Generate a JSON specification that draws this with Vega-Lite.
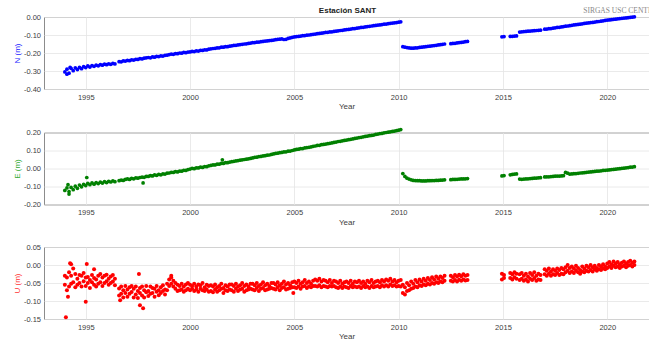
{
"$schema":"https://vega.github.io/schema/vega-lite/v6.json",
"padding":{"left":12,"top":6,"right":0,"bottom":0},
"spacing":15.5,
"data":{"values":[
{"t":1994.0,"N":-0.305,"E":-0.122,"U":-0.055,"V":-0.030},
{"t":1994.1,"N":-0.290,"E":-0.108,"U":-0.035,"V":-0.070},
{"t":1994.2,"N":-0.312,"E":-0.128,"U":-0.060,"V":-0.020},
{"t":1994.3,"N":-0.285,"E":-0.105,"U":-0.030,"V":-0.052},
{"t":1994.4,"N":-0.298,"E":-0.118,"U":-0.048,"V":-0.010},
{"t":1994.5,"N":-0.282,"E":-0.098,"U":-0.062,"V":-0.025},
{"t":1994.6,"N":-0.292,"E":-0.110,"U":-0.038,"V":-0.055},
{"t":1994.7,"N":-0.280,"E":-0.092,"U":-0.050,"V":-0.028},
{"t":1994.8,"N":-0.287,"E":-0.102,"U":-0.030,"V":-0.060},
{"t":1994.9,"N":-0.276,"E":-0.088,"U":-0.045,"V":-0.022},
{"t":1995.0,"N":-0.281,"E":-0.095,"U":-0.058,"V":-0.035},
{"t":1995.1,"N":-0.272,"E":-0.082,"U":-0.033,"V":-0.050},
{"t":1995.2,"N":-0.278,"E":-0.090,"U":-0.042,"V":-0.064},
{"t":1995.3,"N":-0.270,"E":-0.080,"U":-0.028,"V":-0.048},
{"t":1995.4,"N":-0.274,"E":-0.087,"U":-0.055,"V":-0.036},
{"t":1995.5,"N":-0.268,"E":-0.078,"U":-0.040,"V":-0.060},
{"t":1995.6,"N":-0.271,"E":-0.084,"U":-0.030,"V":-0.052},
{"t":1995.7,"N":-0.265,"E":-0.076,"U":-0.048,"V":-0.025},
{"t":1995.8,"N":-0.268,"E":-0.081,"U":-0.035,"V":-0.058},
{"t":1995.9,"N":-0.262,"E":-0.073,"U":-0.050,"V":-0.030},
{"t":1996.0,"N":-0.265,"E":-0.078,"U":-0.027,"V":-0.045},
{"t":1996.1,"N":-0.260,"E":-0.071,"U":-0.055,"V":-0.038},
{"t":1996.2,"N":-0.263,"E":-0.075,"U":-0.032,"V":-0.050},
{"t":1996.3,"N":-0.258,"E":-0.069,"U":-0.046,"V":-0.028},
{"t":1996.4,"N":-0.261,"E":-0.073,"U":-0.038,"V":-0.056},
{"t":1996.6,"N":-0.248,"E":-0.068,"U":-0.065,"V":-0.085},
{"t":1996.7,"N":-0.249,"E":-0.064,"U":-0.080,"V":-0.060},
{"t":1996.8,"N":-0.244,"E":-0.066,"U":-0.070,"V":-0.090},
{"t":1996.9,"N":-0.245,"E":-0.061,"U":-0.058,"V":-0.078},
{"t":1997.0,"N":-0.241,"E":-0.058,"U":-0.068,"V":-0.088},
{"t":1997.1,"N":-0.243,"E":-0.061,"U":-0.062,"V":-0.080},
{"t":1997.2,"N":-0.238,"E":-0.055,"U":-0.075,"V":-0.058},
{"t":1997.3,"N":-0.239,"E":-0.057,"U":-0.090,"V":-0.066},
{"t":1997.4,"N":-0.235,"E":-0.052,"U":-0.060,"V":-0.082},
{"t":1997.5,"N":-0.236,"E":-0.054,"U":-0.072,"V":-0.092},
{"t":1997.6,"N":-0.231,"E":-0.050,"U":-0.064,"V":-0.078},
{"t":1997.7,"N":-0.233,"E":-0.048,"U":-0.085,"V":-0.060},
{"t":1997.8,"N":-0.229,"E":-0.049,"U":-0.070,"V":-0.090},
{"t":1997.9,"N":-0.227,"E":-0.044,"U":-0.058,"V":-0.076},
{"t":1998.0,"N":-0.225,"E":-0.044,"U":-0.072,"V":-0.086},
{"t":1998.1,"N":-0.227,"E":-0.040,"U":-0.060,"V":-0.080},
{"t":1998.2,"N":-0.222,"E":-0.041,"U":-0.078,"V":-0.064},
{"t":1998.3,"N":-0.223,"E":-0.036,"U":-0.066,"V":-0.088},
{"t":1998.4,"N":-0.219,"E":-0.038,"U":-0.058,"V":-0.074},
{"t":1998.5,"N":-0.220,"E":-0.033,"U":-0.070,"V":-0.084},
{"t":1998.6,"N":-0.216,"E":-0.035,"U":-0.062,"V":-0.078},
{"t":1998.7,"N":-0.217,"E":-0.030,"U":-0.056,"V":-0.072},
{"t":1998.8,"N":-0.213,"E":-0.031,"U":-0.068,"V":-0.082},
{"t":1998.9,"N":-0.212,"E":-0.026,"U":-0.052,"V":-0.070},
{"t":1999.0,"N":-0.209,"E":-0.025,"U":-0.040,"V":-0.058},
{"t":1999.1,"N":-0.206,"E":-0.021,"U":-0.035,"V":-0.052},
{"t":1999.2,"N":-0.207,"E":-0.022,"U":-0.044,"V":-0.060},
{"t":1999.3,"N":-0.203,"E":-0.017,"U":-0.050,"V":-0.066},
{"t":1999.4,"N":-0.204,"E":-0.019,"U":-0.055,"V":-0.072},
{"t":1999.5,"N":-0.200,"E":-0.014,"U":-0.058,"V":-0.070},
{"t":1999.6,"N":-0.201,"E":-0.015,"U":-0.052,"V":-0.068},
{"t":1999.7,"N":-0.197,"E":-0.010,"U":-0.060,"V":-0.074},
{"t":1999.8,"N":-0.198,"E":-0.011,"U":-0.054,"V":-0.070},
{"t":1999.9,"N":-0.195,"E":-0.006,"U":-0.050,"V":-0.066},
{"t":2000.0,"N":-0.194,"E":-0.003,"U":-0.055,"V":-0.070},
{"t":2000.1,"N":-0.191,"E":0.001,"U":-0.058,"V":-0.066},
{"t":2000.2,"N":-0.192,"E":-0.001,"U":-0.052,"V":-0.072},
{"t":2000.3,"N":-0.188,"E":0.004,"U":-0.060,"V":-0.068},
{"t":2000.4,"N":-0.189,"E":0.003,"U":-0.054,"V":-0.074},
{"t":2000.5,"N":-0.185,"E":0.008,"U":-0.056,"V":-0.066},
{"t":2000.6,"N":-0.186,"E":0.006,"U":-0.050,"V":-0.070},
{"t":2000.7,"N":-0.182,"E":0.011,"U":-0.062,"V":-0.072},
{"t":2000.8,"N":-0.183,"E":0.010,"U":-0.055,"V":-0.068},
{"t":2000.9,"N":-0.179,"E":0.015,"U":-0.058,"V":-0.074},
{"t":2001.0,"N":-0.177,"E":0.017,"U":-0.056,"V":-0.072},
{"t":2001.1,"N":-0.175,"E":0.020,"U":-0.060,"V":-0.076},
{"t":2001.2,"N":-0.174,"E":0.020,"U":-0.054,"V":-0.068},
{"t":2001.3,"N":-0.172,"E":0.024,"U":-0.062,"V":-0.074},
{"t":2001.4,"N":-0.171,"E":0.024,"U":-0.058,"V":-0.070},
{"t":2001.5,"N":-0.168,"E":0.028,"U":-0.052,"V":-0.066},
{"t":2001.6,"N":-0.168,"E":0.028,"U":-0.064,"V":-0.078},
{"t":2001.7,"N":-0.165,"E":0.032,"U":-0.056,"V":-0.070},
{"t":2001.8,"N":-0.165,"E":0.032,"U":-0.060,"V":-0.072},
{"t":2001.9,"N":-0.162,"E":0.036,"U":-0.054,"V":-0.068},
{"t":2002.0,"N":-0.160,"E":0.038,"U":-0.054,"V":-0.070},
{"t":2002.1,"N":-0.158,"E":0.040,"U":-0.058,"V":-0.074},
{"t":2002.2,"N":-0.157,"E":0.042,"U":-0.052,"V":-0.066},
{"t":2002.3,"N":-0.155,"E":0.044,"U":-0.060,"V":-0.072},
{"t":2002.4,"N":-0.153,"E":0.046,"U":-0.056,"V":-0.068},
{"t":2002.5,"N":-0.152,"E":0.048,"U":-0.050,"V":-0.066},
{"t":2002.6,"N":-0.150,"E":0.050,"U":-0.058,"V":-0.074},
{"t":2002.7,"N":-0.149,"E":0.052,"U":-0.054,"V":-0.070},
{"t":2002.8,"N":-0.147,"E":0.054,"U":-0.060,"V":-0.068},
{"t":2002.9,"N":-0.145,"E":0.056,"U":-0.052,"V":-0.066},
{"t":2003.0,"N":-0.143,"E":0.059,"U":-0.052,"V":-0.068},
{"t":2003.1,"N":-0.142,"E":0.062,"U":-0.056,"V":-0.070},
{"t":2003.2,"N":-0.140,"E":0.063,"U":-0.050,"V":-0.064},
{"t":2003.3,"N":-0.139,"E":0.066,"U":-0.058,"V":-0.072},
{"t":2003.4,"N":-0.137,"E":0.067,"U":-0.054,"V":-0.066},
{"t":2003.5,"N":-0.136,"E":0.070,"U":-0.048,"V":-0.064},
{"t":2003.6,"N":-0.134,"E":0.071,"U":-0.056,"V":-0.070},
{"t":2003.7,"N":-0.133,"E":0.074,"U":-0.052,"V":-0.068},
{"t":2003.8,"N":-0.131,"E":0.075,"U":-0.058,"V":-0.066},
{"t":2003.9,"N":-0.130,"E":0.078,"U":-0.050,"V":-0.064},
{"t":2004.0,"N":-0.128,"E":0.081,"U":-0.050,"V":-0.066},
{"t":2004.1,"N":-0.126,"E":0.084,"U":-0.054,"V":-0.068},
{"t":2004.2,"N":-0.124,"E":0.085,"U":-0.048,"V":-0.062},
{"t":2004.3,"N":-0.123,"E":0.088,"U":-0.056,"V":-0.070},
{"t":2004.4,"N":-0.122,"E":0.089,"U":-0.052,"V":-0.064},
{"t":2004.5,"N":-0.125,"E":0.092,"U":-0.046,"V":-0.062},
{"t":2004.6,"N":-0.124,"E":0.093,"U":-0.054,"V":-0.068},
{"t":2004.7,"N":-0.119,"E":0.096,"U":-0.050,"V":-0.066},
{"t":2004.8,"N":-0.116,"E":0.097,"U":-0.056,"V":-0.064},
{"t":2004.9,"N":-0.113,"E":0.100,"U":-0.048,"V":-0.062},
{"t":2005.0,"N":-0.111,"E":0.103,"U":-0.046,"V":-0.062},
{"t":2005.1,"N":-0.109,"E":0.106,"U":-0.050,"V":-0.064},
{"t":2005.2,"N":-0.108,"E":0.107,"U":-0.044,"V":-0.060},
{"t":2005.3,"N":-0.106,"E":0.110,"U":-0.052,"V":-0.066},
{"t":2005.4,"N":-0.104,"E":0.111,"U":-0.048,"V":-0.060},
{"t":2005.5,"N":-0.103,"E":0.114,"U":-0.042,"V":-0.058},
{"t":2005.6,"N":-0.101,"E":0.116,"U":-0.050,"V":-0.064},
{"t":2005.7,"N":-0.100,"E":0.118,"U":-0.046,"V":-0.060},
{"t":2005.8,"N":-0.098,"E":0.120,"U":-0.052,"V":-0.062},
{"t":2005.9,"N":-0.096,"E":0.123,"U":-0.044,"V":-0.058},
{"t":2006.0,"N":-0.095,"E":0.125,"U":-0.040,"V":-0.058},
{"t":2006.1,"N":-0.093,"E":0.128,"U":-0.044,"V":-0.060},
{"t":2006.2,"N":-0.091,"E":0.129,"U":-0.038,"V":-0.056},
{"t":2006.3,"N":-0.090,"E":0.132,"U":-0.046,"V":-0.062},
{"t":2006.4,"N":-0.088,"E":0.134,"U":-0.042,"V":-0.058},
{"t":2006.5,"N":-0.086,"E":0.136,"U":-0.044,"V":-0.060},
{"t":2006.6,"N":-0.085,"E":0.138,"U":-0.048,"V":-0.062},
{"t":2006.7,"N":-0.083,"E":0.140,"U":-0.042,"V":-0.058},
{"t":2006.8,"N":-0.082,"E":0.142,"U":-0.050,"V":-0.060},
{"t":2006.9,"N":-0.080,"E":0.145,"U":-0.044,"V":-0.058},
{"t":2007.0,"N":-0.079,"E":0.147,"U":-0.046,"V":-0.062},
{"t":2007.1,"N":-0.077,"E":0.150,"U":-0.050,"V":-0.064},
{"t":2007.2,"N":-0.075,"E":0.151,"U":-0.044,"V":-0.060},
{"t":2007.3,"N":-0.074,"E":0.154,"U":-0.052,"V":-0.064},
{"t":2007.4,"N":-0.072,"E":0.156,"U":-0.048,"V":-0.060},
{"t":2007.5,"N":-0.070,"E":0.158,"U":-0.046,"V":-0.062},
{"t":2007.6,"N":-0.069,"E":0.160,"U":-0.050,"V":-0.064},
{"t":2007.7,"N":-0.067,"E":0.162,"U":-0.044,"V":-0.058},
{"t":2007.8,"N":-0.065,"E":0.164,"U":-0.052,"V":-0.062},
{"t":2007.9,"N":-0.064,"E":0.167,"U":-0.046,"V":-0.060},
{"t":2008.0,"N":-0.062,"E":0.169,"U":-0.048,"V":-0.062},
{"t":2008.1,"N":-0.060,"E":0.172,"U":-0.044,"V":-0.060},
{"t":2008.2,"N":-0.058,"E":0.173,"U":-0.050,"V":-0.064},
{"t":2008.3,"N":-0.057,"E":0.176,"U":-0.046,"V":-0.058},
{"t":2008.4,"N":-0.055,"E":0.178,"U":-0.052,"V":-0.062},
{"t":2008.5,"N":-0.053,"E":0.180,"U":-0.044,"V":-0.060},
{"t":2008.6,"N":-0.052,"E":0.182,"U":-0.048,"V":-0.064},
{"t":2008.7,"N":-0.050,"E":0.184,"U":-0.042,"V":-0.058},
{"t":2008.8,"N":-0.048,"E":0.186,"U":-0.050,"V":-0.062},
{"t":2008.9,"N":-0.047,"E":0.189,"U":-0.046,"V":-0.060},
{"t":2009.0,"N":-0.045,"E":0.191,"U":-0.044,"V":-0.058},
{"t":2009.1,"N":-0.044,"E":0.194,"U":-0.048,"V":-0.062},
{"t":2009.2,"N":-0.042,"E":0.195,"U":-0.042,"V":-0.056},
{"t":2009.3,"N":-0.040,"E":0.198,"U":-0.046,"V":-0.060},
{"t":2009.4,"N":-0.039,"E":0.200,"U":-0.040,"V":-0.056},
{"t":2009.5,"N":-0.037,"E":0.202,"U":-0.044,"V":-0.060},
{"t":2009.6,"N":-0.035,"E":0.204,"U":-0.038,"V":-0.054},
{"t":2009.7,"N":-0.034,"E":0.206,"U":-0.046,"V":-0.058},
{"t":2009.8,"N":-0.032,"E":0.208,"U":-0.042,"V":-0.056},
{"t":2009.9,"N":-0.031,"E":0.211,"U":-0.048,"V":-0.060},
{"t":2010.0,"N":-0.029,"E":0.213,"U":-0.044,"V":-0.058},
{"t":2010.1,"N":-0.027,"E":0.216,"U":-0.042,"V":-0.060},
{"t":2010.2,"N":-0.165,"E":-0.028,"U":-0.055,"V":-0.078},
{"t":2010.3,"N":-0.168,"E":-0.044,"U":-0.062,"V":-0.082},
{"t":2010.4,"N":-0.170,"E":-0.054,"U":-0.050,"V":-0.072},
{"t":2010.5,"N":-0.172,"E":-0.059,"U":-0.056,"V":-0.070},
{"t":2010.6,"N":-0.173,"E":-0.063,"U":-0.046,"V":-0.066},
{"t":2010.7,"N":-0.173,"E":-0.066,"U":-0.052,"V":-0.064},
{"t":2010.8,"N":-0.172,"E":-0.067,"U":-0.042,"V":-0.060},
{"t":2010.9,"N":-0.171,"E":-0.068,"U":-0.048,"V":-0.062},
{"t":2011.0,"N":-0.169,"E":-0.068,"U":-0.040,"V":-0.056},
{"t":2011.1,"N":-0.168,"E":-0.069,"U":-0.046,"V":-0.058},
{"t":2011.2,"N":-0.166,"E":-0.069,"U":-0.038,"V":-0.054},
{"t":2011.3,"N":-0.165,"E":-0.069,"U":-0.044,"V":-0.056},
{"t":2011.4,"N":-0.163,"E":-0.068,"U":-0.036,"V":-0.052},
{"t":2011.5,"N":-0.162,"E":-0.068,"U":-0.042,"V":-0.054},
{"t":2011.6,"N":-0.160,"E":-0.067,"U":-0.034,"V":-0.050},
{"t":2011.7,"N":-0.159,"E":-0.067,"U":-0.040,"V":-0.052},
{"t":2011.8,"N":-0.157,"E":-0.066,"U":-0.032,"V":-0.048},
{"t":2011.9,"N":-0.155,"E":-0.066,"U":-0.038,"V":-0.050},
{"t":2012.0,"N":-0.154,"E":-0.065,"U":-0.032,"V":-0.046},
{"t":2012.1,"N":-0.152,"E":-0.064,"U":-0.036,"V":-0.048},
{"t":2012.2,"N":-0.150,"E":-0.063,"U":-0.030,"V":-0.044},
{"t":2012.5,"N":-0.148,"E":-0.062,"U":-0.030,"V":-0.044},
{"t":2012.6,"N":-0.147,"E":-0.061,"U":-0.034,"V":-0.046},
{"t":2012.7,"N":-0.146,"E":-0.061,"U":-0.028,"V":-0.042},
{"t":2012.8,"N":-0.144,"E":-0.060,"U":-0.032,"V":-0.046},
{"t":2012.9,"N":-0.142,"E":-0.059,"U":-0.027,"V":-0.041},
{"t":2013.0,"N":-0.141,"E":-0.058,"U":-0.031,"V":-0.044},
{"t":2013.1,"N":-0.139,"E":-0.058,"U":-0.026,"V":-0.040},
{"t":2013.2,"N":-0.137,"E":-0.057,"U":-0.030,"V":-0.043},
{"t":2013.3,"N":-0.136,"E":-0.056,"U":-0.028,"V":-0.042},
{"t":2014.95,"N":-0.110,"E":-0.041,"U":-0.024,"V":-0.040},
{"t":2015.05,"N":-0.109,"E":-0.039,"U":-0.028,"V":-0.036},
{"t":2015.35,"N":-0.108,"E":-0.035,"U":-0.022,"V":-0.036},
{"t":2015.45,"N":-0.107,"E":-0.033,"U":-0.026,"V":-0.040},
{"t":2015.55,"N":-0.106,"E":-0.031,"U":-0.020,"V":-0.034},
{"t":2015.65,"N":-0.105,"E":-0.030,"U":-0.024,"V":-0.038},
{"t":2015.8,"N":-0.084,"E":-0.059,"U":-0.026,"V":-0.042},
{"t":2015.9,"N":-0.082,"E":-0.060,"U":-0.022,"V":-0.038},
{"t":2016.0,"N":-0.081,"E":-0.059,"U":-0.030,"V":-0.044},
{"t":2016.1,"N":-0.080,"E":-0.058,"U":-0.024,"V":-0.040},
{"t":2016.2,"N":-0.079,"E":-0.057,"U":-0.032,"V":-0.046},
{"t":2016.3,"N":-0.078,"E":-0.056,"U":-0.022,"V":-0.038},
{"t":2016.4,"N":-0.077,"E":-0.055,"U":-0.028,"V":-0.042},
{"t":2016.5,"N":-0.076,"E":-0.054,"U":-0.020,"V":-0.036},
{"t":2016.6,"N":-0.075,"E":-0.053,"U":-0.030,"V":-0.044},
{"t":2016.7,"N":-0.074,"E":-0.052,"U":-0.024,"V":-0.040},
{"t":2016.8,"N":-0.073,"E":-0.051,"U":-0.028,"V":-0.042},
{"t":2017.0,"N":-0.068,"E":-0.047,"U":-0.012,"V":-0.026},
{"t":2017.1,"N":-0.067,"E":-0.046,"U":-0.016,"V":-0.030},
{"t":2017.2,"N":-0.065,"E":-0.046,"U":-0.010,"V":-0.024},
{"t":2017.3,"N":-0.064,"E":-0.045,"U":-0.018,"V":-0.030},
{"t":2017.4,"N":-0.062,"E":-0.044,"U":-0.012,"V":-0.026},
{"t":2017.5,"N":-0.060,"E":-0.043,"U":-0.016,"V":-0.028},
{"t":2017.6,"N":-0.058,"E":-0.042,"U":-0.010,"V":-0.022},
{"t":2017.7,"N":-0.057,"E":-0.042,"U":-0.014,"V":-0.028},
{"t":2017.8,"N":-0.055,"E":-0.041,"U":-0.008,"V":-0.024},
{"t":2017.9,"N":-0.053,"E":-0.040,"U":-0.012,"V":-0.026},
{"t":2018.0,"N":-0.051,"E":-0.022,"U":-0.006,"V":-0.020},
{"t":2018.1,"N":-0.050,"E":-0.026,"U":0.000,"V":-0.016},
{"t":2018.2,"N":-0.048,"E":-0.031,"U":-0.008,"V":-0.022},
{"t":2018.3,"N":-0.046,"E":-0.030,"U":-0.004,"V":-0.018},
{"t":2018.4,"N":-0.044,"E":-0.029,"U":-0.010,"V":-0.022},
{"t":2018.5,"N":-0.043,"E":-0.028,"U":-0.002,"V":-0.016},
{"t":2018.6,"N":-0.041,"E":-0.027,"U":-0.008,"V":-0.020},
{"t":2018.7,"N":-0.040,"E":-0.025,"U":-0.014,"V":-0.024},
{"t":2018.8,"N":-0.038,"E":-0.024,"U":-0.004,"V":-0.018},
{"t":2018.9,"N":-0.036,"E":-0.023,"U":-0.010,"V":-0.020},
{"t":2019.0,"N":-0.034,"E":-0.021,"U":-0.002,"V":-0.016},
{"t":2019.1,"N":-0.033,"E":-0.020,"U":-0.006,"V":-0.018},
{"t":2019.2,"N":-0.031,"E":-0.019,"U":0.000,"V":-0.014},
{"t":2019.3,"N":-0.030,"E":-0.018,"U":-0.006,"V":-0.018},
{"t":2019.4,"N":-0.028,"E":-0.016,"U":-0.002,"V":-0.012},
{"t":2019.5,"N":-0.026,"E":-0.015,"U":-0.008,"V":-0.016},
{"t":2019.6,"N":-0.025,"E":-0.014,"U":0.000,"V":-0.012},
{"t":2019.7,"N":-0.023,"E":-0.013,"U":-0.004,"V":-0.014},
{"t":2019.8,"N":-0.021,"E":-0.011,"U":0.002,"V":-0.010},
{"t":2019.9,"N":-0.019,"E":-0.010,"U":-0.004,"V":-0.012},
{"t":2020.0,"N":-0.017,"E":-0.009,"U":0.004,"V":-0.008},
{"t":2020.1,"N":-0.016,"E":-0.008,"U":0.008,"V":-0.004},
{"t":2020.2,"N":-0.015,"E":-0.006,"U":0.002,"V":-0.008},
{"t":2020.3,"N":-0.013,"E":-0.005,"U":0.010,"V":-0.002},
{"t":2020.4,"N":-0.012,"E":-0.004,"U":0.004,"V":-0.006},
{"t":2020.5,"N":-0.010,"E":-0.002,"U":0.008,"V":-0.004},
{"t":2020.6,"N":-0.009,"E":-0.001,"U":0.002,"V":-0.008},
{"t":2020.7,"N":-0.007,"E":0.001,"U":0.006,"V":-0.004},
{"t":2020.8,"N":-0.006,"E":0.002,"U":0.010,"V":-0.002},
{"t":2020.9,"N":-0.005,"E":0.004,"U":0.004,"V":-0.006},
{"t":2021.0,"N":-0.004,"E":0.005,"U":0.008,"V":-0.002},
{"t":2021.1,"N":-0.002,"E":0.007,"U":0.012,"V":0.000},
{"t":2021.2,"N":-0.001,"E":0.008,"U":0.006,"V":-0.004},
{"t":2021.3,"N":0.001,"E":0.010,"U":0.010,"V":0.000},
{"t":1994.05,"U":-0.145},
{"t":1994.25,"U":0.005},
{"t":1994.3,"U":0.002},
{"t":1994.15,"U":-0.088},
{"t":1995.0,"U":-0.102},
{"t":1995.05,"U":0.003},
{"t":1995.4,"U":-0.012},
{"t":1997.55,"U":-0.025},
{"t":1997.6,"U":-0.112},
{"t":1997.75,"U":-0.120},
{"t":1999.1,"U":-0.030},
{"t":1996.65,"U":-0.098},
{"t":2004.95,"U":-0.078},
{"t":1995.05,"E":-0.050},
{"t":1997.75,"E":-0.080},
{"t":2001.55,"E":0.048},
{"t":1994.1,"N":-0.318},
{"t":1994.2,"E":-0.142},
{"t":1994.15,"E":-0.090},
{"t":1994.25,"N":-0.280}
]},
"vconcat":[
{
"width":605,"height":72,
"layer":[
{"mark":{"type":"point","filled":true,"size":14,"opacity":1,"color":"#0000ff"},
"encoding":{
"x":{"field":"t","type":"quantitative","scale":{"domain":[1993,2022],"nice":false,"zero":false},
"axis":{"values":[1995,2000,2005,2010,2015,2020],"format":"d","title":"Year"}},
"y":{"field":"N","type":"quantitative","scale":{"domain":[-0.4,0],"nice":false,"zero":false},
"axis":{"values":[-0.4,-0.3,-0.2,-0.1,0],"labelExpr":"replace(format(datum.value,'.2f'),'\u2212','-')","title":"N (m)","titleColor":"#1a1aff"}}}},
{"data":{"values":[{"lab":"Estación SANT"}]},
"mark":{"type":"text","font":"Liberation Sans","fontWeight":"bold","fontSize":8,"color":"#222222","align":"center","baseline":"alphabetic","dy":-4,"clip":false},
"encoding":{"text":{"field":"lab"},
"x":{"datum":2007.55,"type":"quantitative","axis":{"values":[1995,2000,2005,2010,2015,2020],"format":"d","title":"Year"}},
"y":{"datum":0,"type":"quantitative","axis":{"values":[-0.4,-0.3,-0.2,-0.1,0],"labelExpr":"replace(format(datum.value,'.2f'),'\u2212','-')","title":"N (m)","titleColor":"#1a1aff"}}}},
{"data":{"values":[{"lab":"SIRGAS USC CENTER"}]},
"mark":{"type":"text","font":"Liberation Serif","fontSize":7.5,"color":"#888888","align":"left","baseline":"alphabetic","dy":-4,"clip":false},
"encoding":{"text":{"field":"lab"},
"x":{"datum":2018.85,"type":"quantitative","axis":{"values":[1995,2000,2005,2010,2015,2020],"format":"d","title":"Year"}},
"y":{"datum":0,"type":"quantitative","axis":{"values":[-0.4,-0.3,-0.2,-0.1,0],"labelExpr":"replace(format(datum.value,'.2f'),'\u2212','-')","title":"N (m)","titleColor":"#1a1aff"}}}}
]
},
{
"width":605,"height":72,
"mark":{"type":"point","filled":true,"size":14,"opacity":1,"color":"#008000"},
"encoding":{
"x":{"field":"t","type":"quantitative","scale":{"domain":[1993,2022],"nice":false,"zero":false},
"axis":{"values":[1995,2000,2005,2010,2015,2020],"format":"d","title":"Year"}},
"y":{"field":"E","type":"quantitative","scale":{"domain":[-0.2,0.2],"nice":false,"zero":false},
"axis":{"values":[-0.2,-0.1,0,0.1,0.2],"labelExpr":"replace(format(datum.value,'.2f'),'\u2212','-')","title":"E (m)","titleColor":"#33aa33"}}}
},
{
"width":605,"height":72,
"transform":[{"fold":["U","V"],"as":["k","val"]}],
"mark":{"type":"point","filled":true,"size":16,"opacity":1,"color":"#ff0000"},
"encoding":{
"x":{"field":"t","type":"quantitative","scale":{"domain":[1993,2022],"nice":false,"zero":false},
"axis":{"values":[1995,2000,2005,2010,2015,2020],"format":"d","title":"Year"}},
"y":{"field":"val","type":"quantitative","scale":{"domain":[-0.15,0.05],"nice":false,"zero":false},
"axis":{"values":[-0.15,-0.1,-0.05,0,0.05],"labelExpr":"replace(format(datum.value,'.2f'),'\u2212','-')","title":"U (m)","titleColor":"#ff3333"}}}
}
],
"config":{
"view":{"stroke":"#8c8c8c","strokeWidth":1},
"axis":{"labelFont":"Liberation Sans","titleFont":"Liberation Sans","labelFontSize":7.5,"titleFontSize":8,"titleFontWeight":"normal","labelColor":"#404040","titleColor":"#404040","gridColor":"#e4e4e4","gridWidth":0.8,"domain":false,"ticks":false,"labelFlush":false,"labelOverlap":false,"labelBound":false},
"axisX":{"labelPadding":4,"titlePadding":2},
"axisY":{"labelPadding":3.5,"titlePadding":2}
}
}
